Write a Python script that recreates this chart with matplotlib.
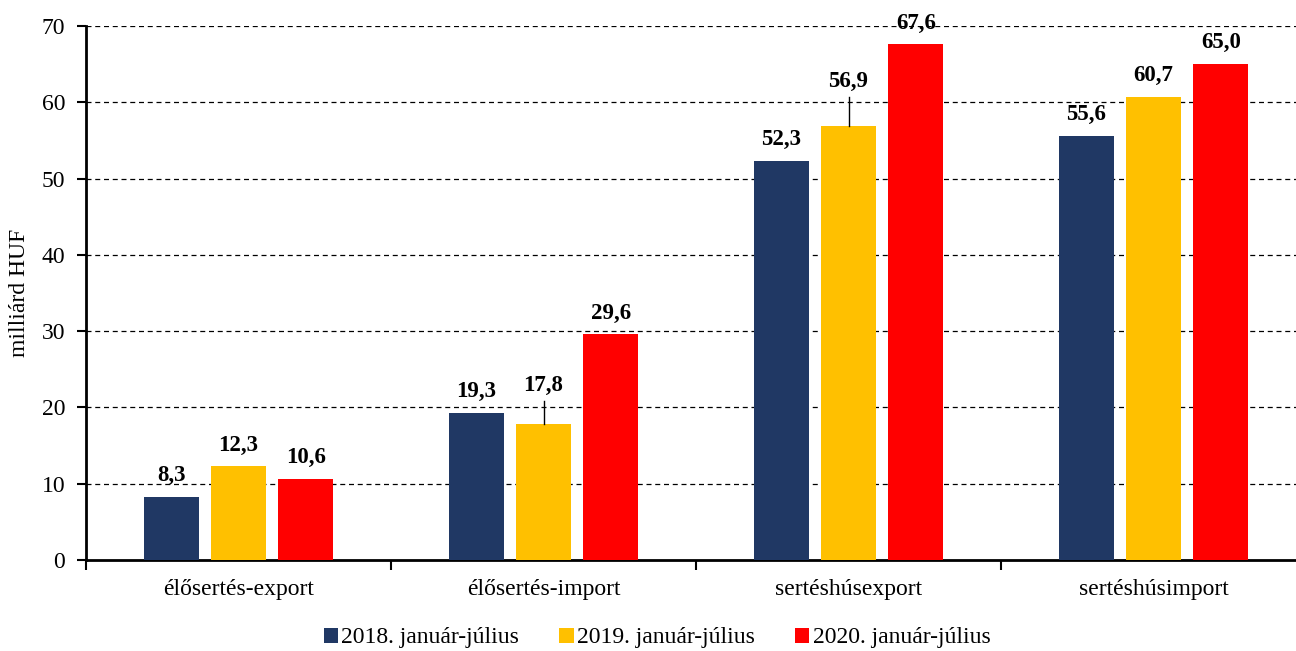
import numpy as np
import matplotlib
matplotlib.use("Agg")
import matplotlib.pyplot as plt

plt.rcParams['font.family'] = ['Liberation Serif', 'DejaVu Serif']

categories = ["élősertés-export", "élősertés-import", "sertéshúsexport", "sertéshúsimport"]
series_names = ["2018. január-július", "2019. január-július", "2020. január-július"]
values_2018 = [8.3, 19.3, 52.3, 55.6]
values_2019 = [12.3, 17.8, 56.9, 60.7]
values_2020 = [10.6, 29.6, 67.6, 65.0]
colors = ["#203864", "#FFC000", "#FF0000"]

# labels lifted higher with a leader line (series index, category index, label y)
lifted = {(1, 1): 21.5, (1, 2): 61.3}

fig = plt.figure(figsize=(12.96, 6.51), dpi=100)
ax = fig.add_axes([86 / 1296, 1 - 560 / 651, 1220 / 1296, 534 / 651])

x = np.arange(len(categories))
w = 0.18
step = 0.221
all_vals = [values_2018, values_2019, values_2020]
for s, (vals, c, name) in enumerate(zip(all_vals, colors, series_names)):
    pos = x + (s - 1) * step
    ax.bar(pos, vals, width=w, color=c, label=name, zorder=3)
    for j, (p, v) in enumerate(zip(pos, vals)):
        lab = f"{v:.1f}".replace(".", ",")
        if (s, j) in lifted:
            ly = lifted[(s, j)]
            ax.plot([p, p], [v, ly - 0.6], color="black", lw=1, zorder=4)
            ax.text(p, ly, lab, ha="center", va="bottom", fontsize=16.5, fontweight="bold")
        else:
            ax.text(p, v + 1.4, lab, ha="center", va="bottom", fontsize=16.5, fontweight="bold")

ax.set_xlim(-0.5, 3.5)
ax.set_ylim(0, 70)
ax.set_yticks(range(0, 71, 10))
ax.set_xticks(np.arange(-0.5, 4.0, 1.0))
ax.set_xticklabels([])
ax.set_xticks(x, minor=True)
ax.set_xticklabels(categories, minor=True, fontsize=17)
ax.tick_params(axis="x", which="minor", length=0, pad=14)
ax.tick_params(axis="x", which="major", length=7, width=1.5, direction="out")
ax.tick_params(axis="y", length=6.5, width=1.5, direction="out", labelsize=17, pad=8.5)
ax.set_ylabel("milliárd HUF", fontsize=17, labelpad=8)

for yv in range(10, 71, 10):
    ax.axhline(yv, color="black", lw=0.9, ls=(0, (4, 3)), zorder=1)

for sp in ["top", "right"]:
    ax.spines[sp].set_visible(False)
for sp in ["left", "bottom"]:
    ax.spines[sp].set_linewidth(2)

fig.legend(loc="center", bbox_to_anchor=(0.507, 1 - 638 / 651), ncol=3, frameon=False,
           fontsize=17, handlelength=0.6, handleheight=0.6, handletextpad=0.15,
           columnspacing=1.7)

fig.savefig("out.png", dpi=100)
